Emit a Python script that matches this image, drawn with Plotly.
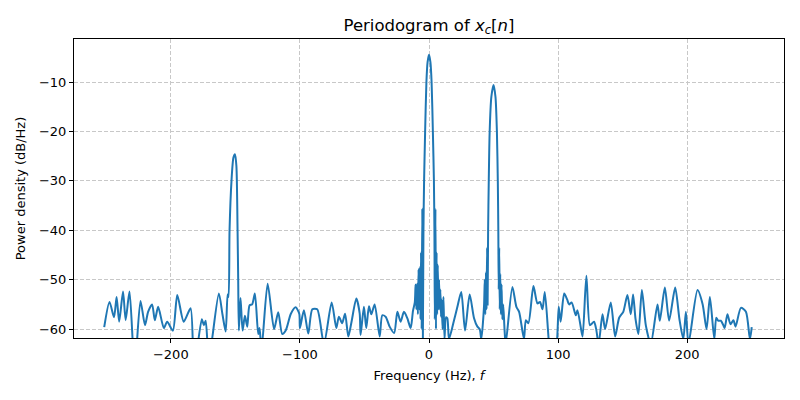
import plotly.graph_objects as go

# Periodogram of x_c[n]
freq_hz = [
    -251.6, -247.5, -244.0, -242.0, -240.0, -237.0, -235.0, -232.0, -228.0,
    -223.5, -220.0, -217.6, -214.5, -212.4, -209.8, -205.4, -202.8, -198.4,
    -195.0, -190.0, -184.7, -182.0, -176.0, -174.4, -173.0, -170.5,
    -162.8, -160.0, -157.5, -156.0, -155.3, -154.5, -153.0, -151.5, -150.3,
    -149.2, -148.3, -147.8, -147.3, -146.0, -144.4, -142.6, -140.8, -139.0,
    -137.0, -134.9, -132.3, -131.3, -129.7, -125.0, -120.0, -116.8, -113.7,
    -111.0, -107.0, -103.3, -100.5, -100.0, -96.9, -93.5, -90.4, -86.6,
    -81.4, -75.4, -71.8, -69.8, -67.3, -65.0, -62.5, -60.0, -56.3, -53.7,
    -53.0, -50.4, -48.6, -46.5, -44.7, -42.1, -38.2, -36.2, -33.6, -30.5,
    -27.0, -24.5, -22.0, -19.4, -16.8, -14.2, -12.4, -11.0, -10.4, -9.8,
    -9.2, -8.6, -8.1, -7.6, -7.1, -6.6, -6.2, -5.7, -5.2, -4.8,
    -4.3, -3.8, -3.0, -2.0, -1.1, 0.0, 1.1, 2.0, 3.0, 3.8, 4.2,
    4.5, 5.0, 5.4, 5.9, 6.3, 6.8, 7.3, 7.8, 8.3, 8.8, 9.3, 9.8, 10.5,
    11.2, 12.0, 13.2, 14.2, 15.5, 19.4, 22.0, 25.0, 27.9, 31.5, 34.9,
    37.5, 39.3, 40.5, 42.6, 43.2, 43.6, 44.1, 44.6, 45.0, 45.4, 45.8,
    46.3, 47.0, 48.3, 50.0, 51.5, 52.6, 53.3, 53.7, 54.0, 54.4, 54.8,
    55.2, 55.7, 56.2, 56.8, 57.5, 58.5, 59.4, 64.6, 67.7, 69.8, 73.6,
    75.0, 77.0, 80.9, 84.0, 86.0, 87.9, 89.7, 93.0, 95.5, 99.0, 100.5,
    102.0, 104.7, 107.0, 108.5, 110.5, 113.7, 115.0, 117.8, 119.0, 121.9,
    124.6, 126.5, 127.9, 129.5, 131.4, 134.4, 136.4, 140.8, 144.2, 147.3,
    150.5, 153.7, 156.3, 158.1, 160.0, 162.2, 164.9, 168.0, 171.8, 177.0,
    178.8, 182.7, 186.0, 190.7, 194.0, 197.0, 199.0, 201.0, 208.0, 212.0,
    215.0, 217.6, 221.0, 222.5, 224.0, 226.0, 228.0, 229.0, 231.2, 233.5,
    235.8, 237.5, 241.6, 245.5, 248.6, 250.0,
]

power_db = [
    -59.6, -54.5, -57.6, -53.5, -58.5, -52.4, -58.2, -52.4, -68.0,
    -54.3, -59.2, -56.5, -55.0, -58.2, -55.5, -59.8, -58.5, -60.3,
    -53.1, -58.5, -55.8, -68.0, -58.0, -59.2, -58.3, -66.0,
    -52.8, -57.0, -60.5, -53.0, -53.5, -40.0, -30.0, -25.3, -24.6,
    -27.0, -40.0, -50.0, -60.3, -53.7, -60.3, -57.3, -59.5, -55.2,
    -55.0, -52.8, -61.0, -59.8, -64.0, -50.8, -60.0, -56.6, -61.0,
    -60.3, -56.9, -55.6, -56.9, -59.8, -56.2, -60.9, -56.0, -56.0,
    -63.0, -54.6, -59.8, -57.5, -58.8, -56.9, -61.5, -58.5, -53.8, -56.8,
    -61.2, -55.5, -59.8, -55.4, -57.0, -55.0, -61.5, -57.2, -57.5, -59.5,
    -60.8, -56.5, -58.5, -56.5, -57.8, -59.8, -56.3, -54.6, -51.0, -56.0,
    -50.8, -57.0, -47.9, -56.0, -47.5, -58.0, -44.5, -60.0, -35.6, -65.0,
    -40.0, -30.0, -20.0, -10.0, -6.0, -4.5, -6.0, -10.0, -20.0, -30.0, -40.0,
    -58.0, -35.7, -60.0, -44.5, -57.0, -47.0, -56.0, -50.0, -56.0, -52.0, -57.5, -54.0, -60.0,
    -53.5, -62.0, -57.6, -57.8, -62.0, -58.2, -55.5, -52.5, -60.3, -53.0, -57.8,
    -59.5, -60.0, -62.0, -55.5, -50.0, -57.0, -48.5, -56.0, -43.5, -55.0, -40.0,
    -30.0, -20.0, -13.0, -10.6, -13.0, -20.0, -30.0, -40.0, -52.0, -43.5, -56.0,
    -48.8, -57.0, -51.0, -58.0, -55.0, -60.0, -63.0, -51.5, -55.5, -56.5, -62.0,
    -58.2, -58.8, -51.3, -54.8, -54.5, -56.0, -52.5, -63.0, -68.0, -63.0, -55.5,
    -58.5, -52.8, -54.0, -55.0, -54.6, -57.2, -56.2, -60.0, -61.5, -49.2,
    -59.2, -58.8, -58.5, -60.0, -63.0, -57.0, -60.0, -54.6, -61.5, -57.7,
    -56.5, -53.1, -57.0, -53.0, -58.0, -61.0, -52.1, -59.3, -63.0, -55.0,
    -58.3, -51.6, -58.3, -51.6, -58.0, -62.0, -56.5, -63.0, -52.1, -55.0,
    -60.0, -53.5, -62.0, -57.7, -58.3, -58.3, -59.2, -59.8, -57.0, -59.0,
    -58.2, -59.5, -55.7, -56.5, -62.0, -59.6,
]

x_ticks = [-200, -100, 0, 100, 200]
y_ticks = [-60, -50, -40, -30, -20, -10]

_BLUE = "#1f77b4"
_GRID = "#c8c8c8"
_FONT = "DejaVu Sans, sans-serif"

fig = go.Figure()
fig.add_trace(go.Scatter(
    x=freq_hz, y=power_db, mode="lines",
    line=dict(color=_BLUE, width=2, shape="spline", smoothing=0.7),
    showlegend=False,
))

_axis = dict(
    showline=True, linecolor="black", linewidth=1, mirror=True,
    ticks="outside", ticklen=4, tickcolor="black",
    showgrid=True, gridcolor=_GRID, griddash="4px,2px", gridwidth=1,
    zeroline=False, automargin=False,
    tickfont=dict(size=13, color="black"),
)

# The page body keeps its default 8px margin, so the figure is sized
# to sit inside the 800x400 window.
fig.update_layout(
    width=784, height=384,
    paper_bgcolor="white", plot_bgcolor="white",
    font=dict(family=_FONT, size=13, color="black"),
    margin=dict(l=66, r=8, t=31, b=54),
    title=dict(
        text="Periodogram of <i>x</i><sub><i>c</i></sub>[<i>n</i>]",
        font=dict(size=16.5, color="black"),
        x=0.5, xref="paper", xanchor="center",
        y=0.956, yref="container", yanchor="middle",
    ),
    xaxis=dict(
        range=[-275, 275], tickvals=x_ticks,
        title=dict(text="Frequency (Hz), <i>f</i>", standoff=10,
                   font=dict(size=13)),
        **_axis,
    ),
    yaxis=dict(
        range=[-61.8, -1.3], tickvals=y_ticks,
        title=dict(text="Power density (dB/Hz)", standoff=10,
                   font=dict(size=13)),
        **_axis,
    ),
)

fig.write_html("out.html")
